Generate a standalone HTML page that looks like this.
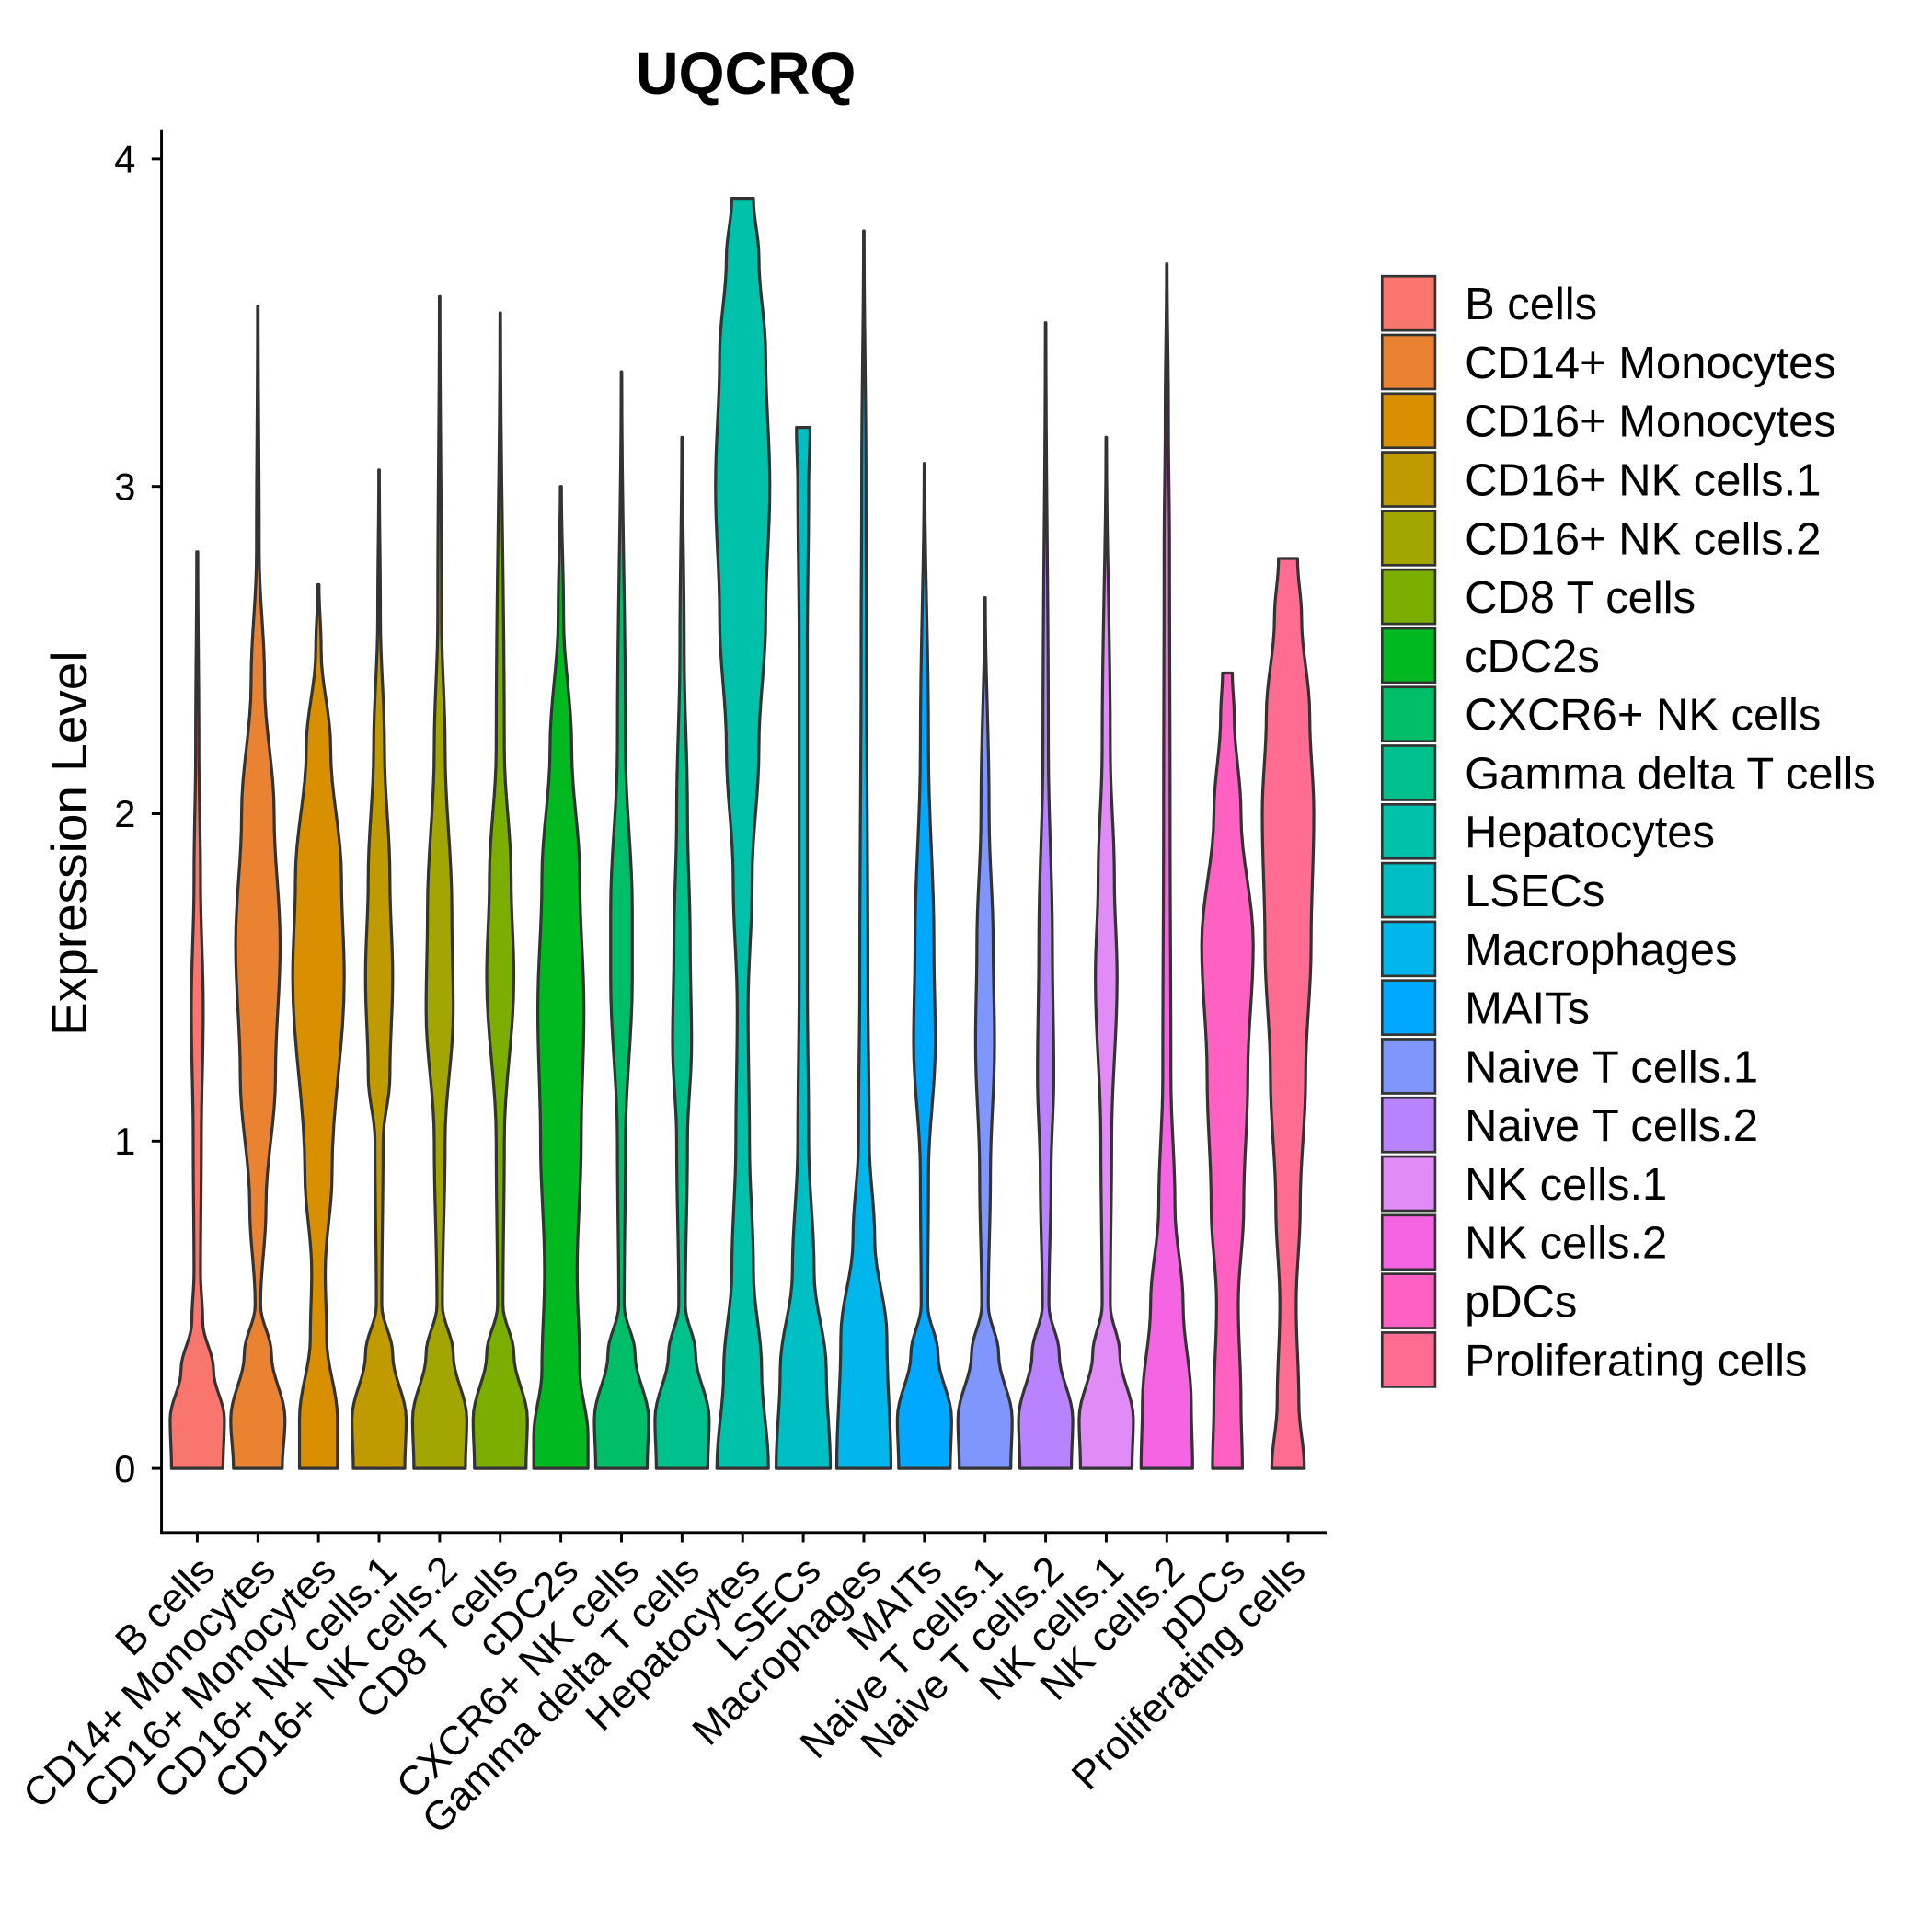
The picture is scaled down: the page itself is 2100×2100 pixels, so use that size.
<!DOCTYPE html>
<html><head><meta charset="utf-8"><style>
html,body{margin:0;padding:0;background:#fff}
svg{display:block}
text{font-family:"Liberation Sans",Arial,sans-serif;fill:#000}
</style></head><body>
<svg id="chart" width="2100" height="2100" viewBox="0 0 1567 1567" xmlns="http://www.w3.org/2000/svg">
<rect width="1567" height="1567" fill="#fff"/>
<text x="605" y="76" font-size="48" font-weight="bold" text-anchor="middle">UQCRQ</text>
<text transform="translate(70,684) rotate(-90)" font-size="41" text-anchor="middle">Expression Level</text>
<g id="violins"></g>
<g id="axes"></g>
<g id="legend"></g>
</svg>
<script>
const categories = ["B cells","CD14+ Monocytes","CD16+ Monocytes","CD16+ NK cells.1","CD16+ NK cells.2","CD8 T cells","cDC2s","CXCR6+ NK cells","Gamma delta T cells","Hepatocytes","LSECs","Macrophages","MAITs","Naive T cells.1","Naive T cells.2","NK cells.1","NK cells.2","pDCs","Proliferating cells"];
const colors = ["#F8766D","#EA8331","#D89000","#C09B00","#A3A500","#7CAE00","#00B81F","#00BE67","#00C08B","#00C1AA","#00BFC4","#00B6EB","#00A9FF","#7F96FF","#B983FF","#E08BF6","#F564E3","#FF61C3","#FF6C91"];
// density profiles: [value, relative half-width]
const profiles = [
[[0,.95],[.15,1],[.3,.6],[.45,.2],[.6,.12],[1,.15],[1.4,.22],[1.8,.12],[2.2,.06],[2.8,.02]],
[[0,.9],[.15,1],[.35,.5],[.5,.1],[.8,.3],[1.2,.65],[1.6,.82],[2,.6],[2.4,.25],[2.8,.05],[3.55,.01]],
[[0,.7],[.15,.7],[.4,.3],[.6,.25],[.9,.5],[1.5,.95],[1.8,.85],[2.2,.45],[2.5,.1],[2.7,.02]],
[[0,.95],[.15,1],[.35,.5],[.5,.1],[1,.15],[1.2,.4],[1.5,.5],[1.8,.4],[2.2,.2],[2.6,.05],[3.05,.01]],
[[0,.95],[.15,1],[.35,.5],[.5,.1],[1,.2],[1.4,.5],[1.7,.45],[2.2,.2],[2.6,.07],[3.58,.01]],
[[0,.95],[.15,1],[.35,.5],[.5,.1],[1,.15],[1.5,.5],[1.8,.4],[2.2,.15],[3.53,.01]],
[[0,1],[.1,1],[.3,.7],[.6,.6],[1,.75],[1.4,.85],[1.8,.7],[2.2,.4],[2.6,.1],[3.0,.02]],
[[0,.95],[.15,1],[.35,.5],[.5,.1],[1,.15],[1.5,.4],[1.7,.4],[2.2,.15],[3.35,.01]],
[[0,.95],[.15,1],[.35,.5],[.5,.12],[1,.2],[1.3,.35],[1.6,.3],[2,.2],[2.5,.08],[3.15,.01]],
[[0,.95],[.3,.7],[.6,.4],[1,.25],[1.4,.2],[1.8,.35],[2.2,.6],[2.6,.85],[3,1],[3.4,.85],[3.7,.6],[3.88,.4]],
[[0,1],[.3,.85],[.6,.4],[1,.2],[1.5,.15],[2,.15],[2.5,.15],[3,.2],[3.18,.25]],
[[0,1],[.4,.85],[.7,.4],[1,.2],[1.5,.15],[2.5,.1],[3,.08],[3.78,.01]],
[[0,.95],[.15,1],[.35,.5],[.5,.12],[.9,.15],[1.3,.4],[1.6,.35],[2.2,.15],[3.07,.01]],
[[0,.95],[.15,1],[.35,.5],[.5,.12],[.9,.2],[1.3,.35],[1.6,.3],[2,.15],[2.66,.01]],
[[0,.95],[.15,1],[.35,.5],[.5,.12],[.9,.2],[1.2,.3],[1.6,.25],[2.2,.1],[3.5,.01]],
[[0,.95],[.15,1],[.35,.5],[.5,.15],[1,.2],[1.5,.4],[1.8,.3],[2.2,.15],[3.15,.01]],
[[0,.95],[.2,.9],[.5,.6],[.8,.3],[1.2,.15],[2,.12],[2.8,.1],[3.2,.06],[3.68,.01]],
[[0,.55],[.2,.5],[.5,.4],[.8,.6],[1.2,.75],[1.6,.95],[2,.5],[2.3,.25],[2.43,.18]],
[[0,.6],[.2,.4],[.5,.3],[.8,.45],[1.2,.65],[1.6,.85],[2,.95],[2.3,.8],[2.6,.5],[2.78,.35]]
];
const yTicks = [0,1,2,3,4];
const NS="http://www.w3.org/2000/svg";
const y = v => 1191 - v*265.5;
const x = i => 160 + i*49.15;
const HW = 22;
function mk(tag, attrs, parent){const e=document.createElementNS(NS,tag);for(const k in attrs)e.setAttribute(k,attrs[k]);parent.appendChild(e);return e;}
const vg=document.getElementById('violins');
profiles.forEach((p,i)=>{
  const cx=x(i);
  const pts=[];
  for(let k=0;k<p.length-1;k++){
    const [v0,w0]=p[k],[v1,w1]=p[k+1];
    for(let s=0;s<8;s++){const t=s/8;const tt=(1-Math.cos(Math.PI*t))/2;pts.push([v0+(v1-v0)*t,w0+(w1-w0)*tt]);}
  }
  pts.push(p[p.length-1]);
  let d="M"+(cx-pts[0][1]*HW)+","+y(0);
  pts.forEach(q=>{d+=" L"+(cx-q[1]*HW).toFixed(2)+","+y(q[0]).toFixed(2);});
  for(let k=pts.length-1;k>=0;k--){const q=pts[k];d+=" L"+(cx+q[1]*HW).toFixed(2)+","+y(q[0]).toFixed(2);}
  d+=" Z";
  const el=mk('path',{d:d,fill:colors[i],stroke:"#333",'stroke-width':2.4,'stroke-linejoin':'round'},vg);
  
  
});
const ag=document.getElementById('axes');
const ya=mk('line',{x1:131,y1:105,x2:131,y2:1244,stroke:"#000",'stroke-width':2.2},ag);


const xa=mk('line',{x1:130,y1:1243,x2:1076,y2:1243,stroke:"#000",'stroke-width':2.2},ag);


yTicks.forEach(t=>{
  mk('line',{x1:123,x2:131,y1:y(t),y2:y(t),stroke:"#000",'stroke-width':2.2},ag);
  const tx=mk('text',{x:110,y:y(t)+11,'font-size':31,'text-anchor':'end'},ag);
  tx.textContent=t;
  
  
});
categories.forEach((c,i)=>{
  mk('line',{x1:x(i),x2:x(i),y1:1243,y2:1251,stroke:"#000",'stroke-width':2.2},ag);
  const tx=mk('text',{transform:`translate(${x(i)+16},${1276}) rotate(-45)`,'font-size':33,'text-anchor':'end'},ag);
  tx.textContent=c;
  
  
});
const lg=document.getElementById('legend');
categories.forEach((c,i)=>{
  const ty=224+i*47.6;
  const r=mk('rect',{x:1121,y:ty,width:43,height:44,fill:colors[i],stroke:"#333",'stroke-width':2},lg);
  
  
  const t=mk('text',{x:1188,y:ty+35,'font-size':36.5},lg);
  t.textContent=c;
  
  
});
</script>
</body></html>
